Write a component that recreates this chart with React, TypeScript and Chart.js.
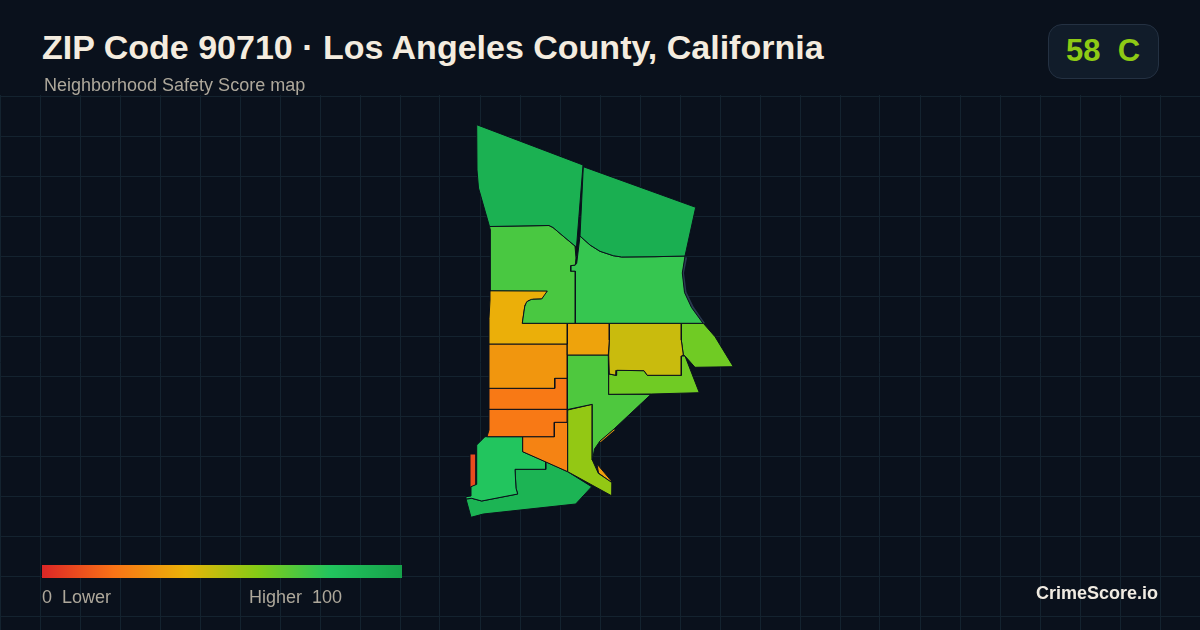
import React, { useEffect, useRef } from "react";
import { Chart, registerables } from "chart.js";

Chart.register(...registerables);

type Pt = [number, number];

const titleText = "ZIP Code 90710 · Los Angeles County, California";
const subtitleText = "Neighborhood Safety Score map";
const overallScore = 58;
const overallGrade = "C";

const rampStops = [0, 20, 40, 60, 80, 100];
const rampColors = ["#dc2626", "#f97316", "#eab308", "#84cc16", "#22c55e", "#16a34a"];

const gridXTicks = [0, 40, 80, 120, 160, 200, 240, 280, 320, 360, 400, 440, 480, 520, 560, 600, 640, 680, 720, 760, 800, 840, 880, 920, 960, 1000, 1040, 1080, 1120, 1160, 1200];
const gridYTicks = [96, 136, 176, 216, 256, 296, 336, 376, 416, 456, 496, 536, 576, 616];

const waterEdge: Pt[] = [[685.5, 256], [682.3, 273], [684.5, 292.5], [691.5, 307.5], [703, 323.3], [705, 323.3], [693.5, 306.5], [686.5, 292], [684, 273], [687, 258]];
const shoreEdge: Pt[] = [[600, 441.2], [614, 429.2], [614.8, 430], [600.7, 442]];
const tractA: Pt[] = [[476.7, 124.7], [583, 165], [576.5, 247], [575, 246], [563, 236], [553, 227.5], [549, 225.5], [517, 226], [489.5, 226.5], [478.5, 188], [477, 170]];
const tractB: Pt[] = [[583.3, 166.7], [695.7, 207.3], [685, 256], [655, 256.7], [621.7, 257], [613.3, 255.7], [600, 251.3], [590, 245], [580, 236]];
const tractC: Pt[] = [[489.5, 226.5], [517, 226], [549, 225.5], [553, 227.5], [563, 236], [575, 246], [576, 258], [575.3, 265], [570.7, 265.7], [570.7, 271.3], [575.3, 271.3], [575.3, 323.3], [522.3, 323.3], [524.7, 306.7], [526.7, 301.7], [531.7, 299.3], [541.7, 299], [547.3, 291], [490, 290.7], [490.7, 266.7], [490, 230]];
const tractD: Pt[] = [[580, 236], [590, 245], [600, 251.3], [613.3, 255.7], [621.7, 257], [655, 256.7], [685, 256], [682.3, 273], [684.5, 292.5], [691.5, 307.5], [703, 323.3], [575.3, 323.3], [575.3, 271.3], [570.7, 271.3], [570.7, 265.7], [575.3, 265], [576.7, 263.3]];
const tractE: Pt[] = [[490, 290.7], [547.3, 290.7], [546, 295], [541.7, 299], [533.3, 299.3], [528.3, 300.7], [525, 305], [522.3, 323.3], [567.3, 323.3], [567.3, 344], [489, 344], [489, 318.3], [490, 300]];
const tractF: Pt[] = [[567.3, 323.3], [609.3, 323.3], [609.3, 340], [608.3, 355], [567.3, 355]];
const tractG: Pt[] = [[489, 344], [567.3, 344], [567.3, 378.3], [554.7, 378.3], [554.7, 388.3], [489, 388.3]];
const tractH: Pt[] = [[489, 388.3], [554.7, 388.3], [554.7, 378.3], [567.3, 378.3], [567.3, 409.3], [489, 409.3]];
const tractI: Pt[] = [[609.3, 323.3], [681.3, 323.3], [681.3, 340], [683.3, 355], [681.3, 356], [681.3, 375.3], [647.3, 375.3], [644, 370.7], [616.7, 370.3], [616, 375.3], [609.3, 374], [608.7, 355], [609.3, 340]];
const tractJ: Pt[] = [[608.7, 374], [616, 375.3], [616.7, 370.3], [644, 370.7], [647.3, 375.3], [681.3, 375.3], [681.3, 356], [685, 356], [699.3, 392.7], [651.7, 394], [608.7, 394.3]];
const tractK: Pt[] = [[681.3, 323.3], [703.3, 323.3], [715, 336.7], [733.3, 366.7], [695, 367.3], [685, 356], [683.3, 355], [681.3, 340]];
const tractL: Pt[] = [[567.3, 355], [608.3, 355], [608.7, 394.3], [651, 394.3], [614, 429], [600, 441], [594.5, 449], [592.5, 460], [592.3, 404.3], [567.7, 409.5]];
const tractM: Pt[] = [[567.7, 410], [592.3, 404.3], [592.3, 460], [598.3, 473.3], [612.5, 483], [612, 496], [567.7, 471.7]];
const tractN: Pt[] = [[597, 464], [611, 480.5], [610, 481.5], [598.5, 473]];
const tractO: Pt[] = [[489, 409.3], [567.3, 409.3], [567.3, 422.3], [554.3, 422.3], [554.3, 436.7], [487, 436.7], [489, 430]];
const tractP: Pt[] = [[554.3, 422.3], [567.7, 422.3], [567.7, 471.7], [522.7, 451.7], [522.7, 436.7], [554.3, 436.7]];
const tractQ: Pt[] = [[485, 436.7], [522.7, 436.7], [522.7, 451.7], [545.7, 461.7], [545.7, 469.3], [515, 469.3], [516, 488.3], [517.7, 494], [481.7, 501], [471.7, 498.3], [466, 499], [466, 496.7], [471, 496], [471, 486.7], [476.7, 484.3], [476.7, 445]];
const tractR: Pt[] = [[545.7, 461.7], [567.7, 471.7], [591.7, 486.7], [575.7, 504], [483.3, 514], [471, 517.3], [466, 499], [471.7, 498.3], [481.7, 501], [517.7, 494], [516, 488.3], [515, 469.3], [545.7, 469.3]];
const tractS: Pt[] = [[470, 454], [476, 454], [476, 484.3], [473.3, 486.7], [470, 487.3]];

const tracts: Pt[][] = [tractA, tractB, tractC, tractD, tractE, tractF, tractG, tractH, tractI, tractJ, tractK, tractL, tractM, tractN, tractO, tractP, tractQ, tractR, tractS];
const tractScores = [92, 93, 72, 76, 38.7, 35, 31, 22, 46.5, 64, 64, 71, 57, 33, 22, 25, 80, 90, 9.5];
const shoreScore = 33;

function hexToRgb(h: string) {
  return [parseInt(h.slice(1, 3), 16), parseInt(h.slice(3, 5), 16), parseInt(h.slice(5, 7), 16)];
}

function scoreColor(score: number) {
  let i = 0;
  while (i < rampStops.length - 2 && score > rampStops[i + 1]) i++;
  const t = (score - rampStops[i]) / (rampStops[i + 1] - rampStops[i]);
  const a = hexToRgb(rampColors[i]);
  const b = hexToRgb(rampColors[i + 1]);
  const c = a.map((v, k) => Math.round(v + (b[k] - v) * t));
  return `rgb(${c[0]},${c[1]},${c[2]})`;
}

const BG = "#0a111c";
const GRID = "#14232f";
const FONT = '"Liberation Sans", Arial, sans-serif';

function polygon(points: Pt[], fillColor: string, strokeWidth = 1) {
  const closed = [...points, points[0]];
  return {
    data: closed.map(([x, y]) => ({ x, y })),
    showLine: true,
    fill: "shape",
    backgroundColor: fillColor,
    borderColor: strokeWidth ? BG : fillColor,
    borderWidth: strokeWidth,
    borderJoinStyle: "round" as const,
    tension: 0,
    pointRadius: 0,
    pointHoverRadius: 0,
  };
}

export default function App() {
  const ref = useRef<HTMLCanvasElement | null>(null);

  useEffect(() => {
    if (!ref.current) return;
    const chart = new Chart(ref.current, {
      type: "scatter",
      data: {
        datasets: [
          ...tracts.map((t, i) => polygon(t, scoreColor(tractScores[i]))),
          polygon(waterEdge, "#2a3a50", 0),
          polygon(shoreEdge, scoreColor(shoreScore), 0),
        ] as any,
      },
      options: {
        animation: false,
        responsive: false,
        devicePixelRatio: 1,
        layout: { padding: 0 },
        plugins: { legend: { display: false }, tooltip: { enabled: false }, title: { display: false } },
        scales: {
          x: {
            type: "linear",
            min: 0,
            max: 1200,
            afterBuildTicks: (axis: any) => {
              axis.ticks = gridXTicks.map((value) => ({ value }));
            },
            ticks: { display: false },
            border: { display: false },
            grid: { color: GRID, lineWidth: 1, drawTicks: false },
          },
          y: {
            type: "linear",
            reverse: true,
            min: 95,
            max: 630,
            afterBuildTicks: (axis: any) => {
              axis.ticks = gridYTicks.map((value) => ({ value }));
            },
            ticks: { display: false },
            border: { display: false },
            grid: { color: GRID, lineWidth: 1, drawTicks: false },
          },
        },
      } as any,
    });
    return () => chart.destroy();
  }, []);

  const text = (left: number, top: number, style: React.CSSProperties, content: string) => (
    <div style={{ position: "absolute", left, top, whiteSpace: "pre", fontFamily: FONT, ...style }}>{content}</div>
  );

  const gradient = `linear-gradient(90deg, ${rampColors.map((c, i) => `${c} ${rampStops[i]}%`).join(", ")})`;

  return (
    <div style={{ position: "absolute", left: 0, top: 0, width: 1200, height: 630, background: BG, overflow: "hidden" }}>
      <style>{`body{margin:0;background:${BG}}`}</style>
      <canvas ref={ref} width={1200} height={535} style={{ position: "absolute", left: 0, top: 95, width: 1200, height: 535 }} />
      {text(42, 27, { fontSize: 34, lineHeight: "40px", fontWeight: 700, color: "#f4ecdf" }, titleText)}
      {text(44, 74, { fontSize: 18, lineHeight: "22px", color: "#aea89b" }, subtitleText)}
      <div style={{ position: "absolute", left: 1048, top: 24, width: 109, height: 53, borderRadius: 14, background: "#111c2a", border: "1px solid #243142" }} />
      {text(1066, 32, { fontSize: 31, lineHeight: "38px", fontWeight: 700, color: scoreColor(overallScore) }, `${overallScore}  ${overallGrade}`)}
      <div style={{ position: "absolute", left: 42, top: 565, width: 360, height: 13, background: gradient }} />
      {text(42, 586, { fontSize: 18, lineHeight: "22px", color: "#aea89b" }, "0  Lower")}
      {text(249, 586, { fontSize: 18, lineHeight: "22px", color: "#aea89b" }, "Higher  100")}
      {text(1036, 582, { fontSize: 18, lineHeight: "22px", fontWeight: 700, color: "#f0ebe2" }, "CrimeScore.io")}
    </div>
  );
}
